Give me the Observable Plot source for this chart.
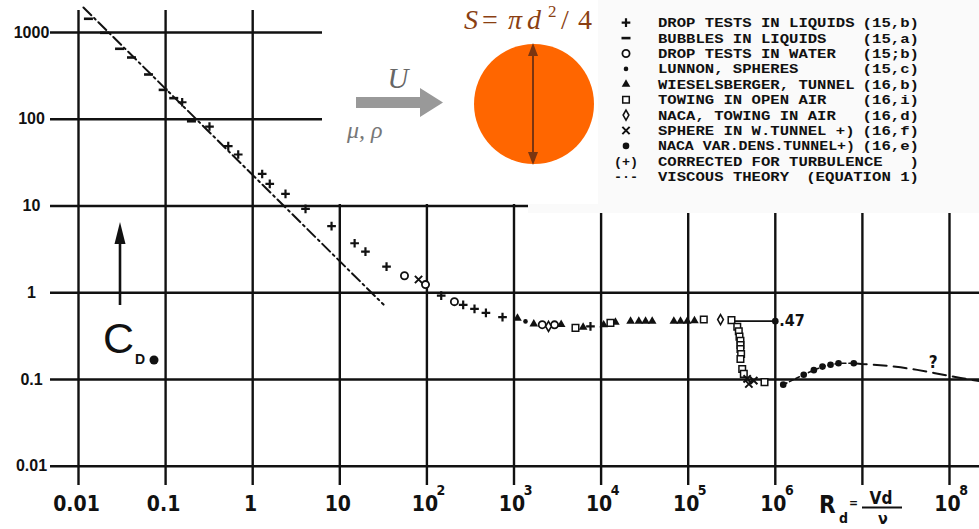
<!DOCTYPE html>
<html>
<head>
<meta charset="utf-8">
<script src="https://cdn.jsdelivr.net/npm/d3@7"></script>
<script src="https://cdn.jsdelivr.net/npm/@observablehq/plot@0.6"></script>
<style>
  html, body { margin: 0; padding: 0; background: #fff; }
  #chart svg { display: block; }
</style>
</head>
<body>
<div id="chart"></div>
<script>
// ---------------- grid / ticks ----------------
const xGrid = [0.01, 0.1, 1, 10, 1e2, 1e3, 1e4, 1e5, 1e6, 1e7, 1e8];
const yGrid = [0.01, 0.1, 1, 10, 100, 1000];
const xTickValues = [0.01, 0.1, 1, 10, 1e2, 1e3, 1e4, 1e5, 1e6, 1e8];
const xTickBase = ["0.01", "0.1", "1", "10", "10", "10", "10", "10", "10", "10"];
const xTickExp = ["", "", "", "", "2", "3", "4", "5", "6", "8"];
const yTickValues = [1000, 100, 10, 1, 0.1, 0.01];
const yTickLabels = ["1000", "100", "10", "1", "0.1", "0.01"];

// ---------------- series (Reynolds number, drag coefficient) ----------------
const viscousRe = [0.0114, 31.8];
const viscousCd = [1942, 0.73];

const bubblesRe = [0.0130, 0.0199, 0.0296, 0.0406, 0.0637, 0.0938, 0.124, 0.198];
const bubblesCd = [1439, 992, 649, 515, 328, 218, 175, 94.8];

const dropLiquidRe = [0.155, 0.319, 0.524, 0.682, 1.285, 1.57, 2.38, 4.04, 8.04, 14.8, 19.7, 34.4, 146, 261, 352, 476, 738, 7550];
const dropLiquidCd = [157, 82.4, 48.9, 39.2, 23.4, 18.0, 13.8, 9.27, 5.86, 3.72, 2.98, 2.00, 0.927, 0.723, 0.650, 0.585, 0.524, 0.409];

const dropWaterRe = [55.3, 96.4, 207, 2110, 2920];
const dropWaterCd = [1.57, 1.24, 0.789, 0.428, 0.426];

const lunnonRe = [1355];
const lunnonCd = [0.467];

const wieselsbergerRe = [1096, 1687, 3480, 6220, 10700, 14600, 21800, 27100, 32400, 38600, 68400, 81600, 97500, 118000];
const wieselsbergerCd = [0.509, 0.436, 0.429, 0.399, 0.426, 0.456, 0.468, 0.468, 0.468, 0.468, 0.468, 0.468, 0.468, 0.475];

const towingOpenRe = [5080, 12800, 151000, 314000, 366000, 381000, 388000, 398000, 398000, 398000, 405000, 398000, 417000, 435000, 752000];
const towingOpenCd = [0.393, 0.449, 0.490, 0.483, 0.406, 0.359, 0.312, 0.280, 0.250, 0.225, 0.197, 0.172, 0.132, 0.116, 0.0931];

const nacaTowRe = [2490, 235000];
const nacaTowCd = [0.409, 0.490];

const tunnelRe = [80.2, 475000, 497000, 566000];
const tunnelCd = [1.42, 0.1014, 0.0887, 0.0968];

const nacaVdtRe = [1233000, 2120000, 2770000, 3480000, 4310000, 5320000, 7960000];
const nacaVdtCd = [0.0871, 0.1135, 0.128, 0.1406, 0.148, 0.1535, 0.154];

const extrapRe = [7960000, 9770000, 19300000, 27400000, 42600000, 66000000, 94200000, 134000000, 221000000];
const extrapCd = [0.154, 0.151, 0.144, 0.138, 0.129, 0.119, 0.111, 0.104, 0.0955];

// annotation ".47" and "?"
const subcritRe = [330000, 1000000];
const subcritCd = [0.47, 0.47];
const subcritLabel = ".47";
const queryRe = [65000000];
const queryCd = [0.158];
const queryLabel = "?";

// legend
const legendKeys = ["plus", "dash", "circle", "dot", "triangle", "square", "diamond", "times", "bigdot", "(+)", "-·-"];
const legendLabels = ["DROP TESTS IN LIQUIDS", "BUBBLES IN LIQUIDS", "DROP TESTS IN WATER", "LUNNON, SPHERES",
  "WIESELSBERGER, TUNNEL", "TOWING IN OPEN AIR", "NACA, TOWING IN AIR", "SPHERE IN W.TUNNEL +)",
  "NACA VAR.DENS.TUNNEL+)", "CORRECTED FOR TURBULENCE", "VISCOUS THEORY"];
const legendRefs = ["(15,b)", "(15,a)", "(15;b)", "(15,c)", "(16,b)", "(16,i)", "(16,d)", "(16,f)", "(16,e)", ")", "(EQUATION 1)"];

// ---------------- helpers ----------------
const zip = (re, cd) => re.map((r, i) => ({re: r, cd: cd[i]}));
const ink = "#111";
const dashSymbol = {draw(ctx) { ctx.moveTo(-4.5, 0); ctx.lineTo(4.5, 0); }};

const styles = {
  plus:     {symbol: d3.symbolPlus, r: 2.9, fill: "none", stroke: ink, strokeWidth: 2.2},
  dash:     {symbol: dashSymbol, r: 3, fill: "none", stroke: ink, strokeWidth: 2.6},
  circle:   {symbol: d3.symbolCircle, r: 3.6, fill: "#fff", stroke: ink, strokeWidth: 1.8},
  dot:      {symbol: d3.symbolCircle, r: 2.3, fill: ink, stroke: "none", strokeWidth: 0},
  triangle: {symbol: d3.symbolTriangle, r: 3.2, fill: ink, stroke: "none", strokeWidth: 0},
  square:   {symbol: d3.symbolSquare, r: 3.7, fill: "#fff", stroke: ink, strokeWidth: 1.5},
  diamond:  {symbol: d3.symbolDiamond, r: 3.0, fill: "#fff", stroke: ink, strokeWidth: 1.6},
  times:    {symbol: d3.symbolTimes, r: 3.4, fill: "none", stroke: ink, strokeWidth: 2},
  bigdot:   {symbol: d3.symbolCircle, r: 3.3, fill: ink, stroke: "none", strokeWidth: 0}
};
const dots = (data, key) => Plot.dot(data, {x: "re", y: "cd", ...styles[key]});

const handFont = "'Liberation Sans Narrow','DejaVu Sans Condensed','Liberation Sans',sans-serif";
const serif = "'Liberation Serif','DejaVu Serif',serif";
const mono = "'Liberation Mono','DejaVu Sans Mono',monospace";
const charW = 9.36;

// ---------------- overlay: panels, inset drawing, legend, labels ----------------
function overlay() {
  const g = d3.create("svg:g").attr("text-anchor", "start");
  // legend panel and inset panel
  g.append("rect").attr("x", 528).attr("y", 0).attr("width", 451).attr("height", 213).attr("fill", "#fafafa");
  g.append("rect").attr("x", 322).attr("y", 0).attr("width", 276).attr("height", 204).attr("fill", "#fff");

  // flow arrow
  g.append("path").attr("d", "M356,97 L420,97 L420,88 L443,102.5 L420,117 L420,108 L356,108 Z").attr("fill", "#999");
  g.append("text").attr("x", 398).attr("y", 88).attr("text-anchor", "middle")
    .attr("font-family", serif).attr("font-style", "italic").attr("font-size", 29).attr("fill", "#666").text("U");
  g.append("text").attr("x", 347).attr("y", 138)
    .attr("font-family", serif).attr("font-style", "italic").attr("font-size", 24).attr("fill", "#777").text("μ, ρ");

  // sphere
  g.append("circle").attr("cx", 534).attr("cy", 104).attr("r", 60).attr("fill", "#ff6600");
  const brown = "#7a3510";
  g.append("line").attr("x1", 533).attr("x2", 533).attr("y1", 52).attr("y2", 156).attr("stroke", brown).attr("stroke-width", 2);
  g.append("path").attr("d", "M528,56 L533,43 L538,56 Z").attr("fill", brown);
  g.append("path").attr("d", "M528,152 L533,165 L538,152 Z").attr("fill", brown);

  // S = pi d^2 / 4
  const sCol = "#8a3f12";
  const sTxt = (x, y, t, size, italic) => g.append("text").attr("x", x).attr("y", y)
    .attr("font-family", serif).attr("font-size", size).attr("font-style", italic ? "italic" : "normal")
    .attr("fill", sCol).text(t);
  sTxt(464, 29, "S", 28, true);
  sTxt(482, 29, "=", 28, false);
  sTxt(508, 29, "π", 28, true);
  sTxt(527, 29, "d", 28, true);
  sTxt(548, 17, "2", 17, false);
  sTxt(561, 29, "/", 28, false);
  sTxt(578, 29, "4", 28, false);

  // legend
  const rowY = i => 22.7 + i * 15.4;
  const legFont = 13.4;
  legendKeys.forEach((k, i) => {
    const y = rowY(i);
    if (styles[k]) {
      const s = styles[k];
      g.append("path")
        .attr("transform", `translate(626,${y})`)
        .attr("d", d3.symbol().type(s.symbol).size(Math.PI * s.r * s.r)())
        .attr("fill", s.fill).attr("stroke", s.stroke).attr("stroke-width", s.strokeWidth);
    } else {
      g.append("text").attr("x", 626).attr("y", y + 4.5).attr("text-anchor", "middle")
        .attr("font-family", mono).attr("font-weight", "bold").attr("font-size", legFont).attr("fill", ink).text(k);
    }
    const lab = legendLabels[i];
    g.append("text").attr("x", 658).attr("y", y + 4.5)
      .attr("font-family", mono).attr("font-weight", "bold").attr("font-size", legFont).attr("fill", ink)
      .attr("textLength", Math.min(lab.length * charW, lab.length > 21 ? (lab.length > 22 ? 227 : 197) : 999))
      .attr("lengthAdjust", "spacingAndGlyphs")
      .text(lab);
    const ref = legendRefs[i];
    g.append("text").attr("x", 919).attr("y", y + 4.5).attr("text-anchor", "end")
      .attr("font-family", mono).attr("font-weight", "bold").attr("font-size", legFont).attr("fill", ink)
      .attr("textLength", ref.length * 9.4).attr("lengthAdjust", "spacingAndGlyphs")
      .text(ref);
  });

  // C_D label with arrow
  g.append("line").attr("x1", 120).attr("x2", 120).attr("y1", 305).attr("y2", 238).attr("stroke", ink).attr("stroke-width", 2.6);
  g.append("path").attr("d", "M114.5,244 L120,222 L125.5,244 Z").attr("fill", ink);
  g.append("text").attr("x", 103).attr("y", 353).attr("font-family", "'Liberation Sans',sans-serif")
    .attr("font-size", 43).attr("fill", ink).text("C");
  g.append("text").attr("x", 135).attr("y", 364).attr("font-family", "'Liberation Sans',sans-serif")
    .attr("font-weight", "bold").attr("font-size", 14).attr("fill", ink).text("D");
  g.append("circle").attr("cx", 154).attr("cy", 360).attr("r", 4.5).attr("fill", ink);

  // x-axis quantity: R_d = Vd / nu
  const ax = (x, y, t, size, anchor) => g.append("text").attr("x", x).attr("y", y)
    .attr("text-anchor", anchor || "start").attr("font-family", handFont).attr("font-weight", "bold")
    .attr("font-size", size).attr("fill", ink).text(t);
  ax(819, 513, "R", 24);
  ax(839, 523, "d", 14);
  ax(849, 507, "=", 12);
  ax(881, 504, "Vd", 17, "middle");
  g.append("line").attr("x1", 862).attr("x2", 902).attr("y1", 507.5).attr("y2", 507.5).attr("stroke", ink).attr("stroke-width", 2);
  ax(883, 524, "ν", 16, "middle");
  return g.node();
}

// ---------------- plot ----------------
const xTicks = xTickValues.map((v, i) => ({v, base: xTickBase[i], exp: xTickExp[i]}));
const yTicks = yTickValues.map((v, i) => ({v, label: yTickLabels[i]}));

const chart = Plot.plot({
  width: 979,
  height: 529,
  marginLeft: 50,
  marginRight: 0,
  marginTop: 10,
  marginBottom: 44,
  x: {type: "log", domain: [0.01, 1e8], range: [78, 949], axis: null},
  y: {type: "log", domain: [0.01, 1000], range: [465.7, 32], axis: null},
  style: {background: "#fff", color: ink, overflow: "visible"},
  marks: [
    Plot.ruleX(xGrid, {stroke: ink, strokeWidth: 2.4}),
    Plot.ruleY(yGrid, {stroke: ink, strokeWidth: 2.6}),
    overlay,
    // tick labels
    Plot.text(xTicks, {x: "v", text: "base", frameAnchor: "bottom", lineAnchor: "middle", dy: 19, dx: -2, textAnchor: "middle",
      fontFamily: handFont, fontWeight: "bold", fontSize: 21, fill: ink}),
    Plot.text(xTicks.filter(d => d.exp), {x: "v", text: "exp", frameAnchor: "bottom", lineAnchor: "middle", dy: 5, dx: 14, textAnchor: "middle",
      fontFamily: handFont, fontWeight: "bold", fontSize: 14, fill: ink}),
    Plot.text(yTicks, {y: "v", text: "label", frameAnchor: "left", lineAnchor: "middle", dx: -19, textAnchor: "middle",
      fontFamily: "'Liberation Sans',sans-serif", fontWeight: "bold", fontSize: 16, fill: ink}),
    // curves
    Plot.line(zip(viscousRe, viscousCd), {x: "re", y: "cd", stroke: ink, strokeWidth: 2, strokeDasharray: "11,4,2,4"}),
    Plot.line(zip(nacaVdtRe, nacaVdtCd), {x: "re", y: "cd", stroke: ink, strokeWidth: 1.6, strokeDasharray: "4,3"}),
    Plot.line(zip(extrapRe, extrapCd), {x: "re", y: "cd", stroke: ink, strokeWidth: 2, strokeDasharray: "13,7"}),
    Plot.line(zip(subcritRe, subcritCd), {x: "re", y: "cd", stroke: ink, strokeWidth: 1.6}),
    // markers
    dots(zip(bubblesRe, bubblesCd), "dash"),
    dots(zip(dropLiquidRe, dropLiquidCd), "plus"),
    dots(zip(dropWaterRe, dropWaterCd), "circle"),
    dots(zip(lunnonRe, lunnonCd), "dot"),
    dots(zip(wieselsbergerRe, wieselsbergerCd), "triangle"),
    dots(zip(towingOpenRe, towingOpenCd), "square"),
    dots(zip(nacaTowRe, nacaTowCd), "diamond"),
    dots(zip(tunnelRe, tunnelCd), "times"),
    dots(zip(nacaVdtRe, nacaVdtCd), "bigdot"),
    dots([{re: subcritRe[1], cd: subcritCd[1]}], "bigdot"),
    // annotations
    Plot.text([{re: subcritRe[1], cd: subcritCd[1]}], {x: "re", y: "cd", text: () => subcritLabel, dx: 4, textAnchor: "start",
      fontFamily: handFont, fontWeight: "bold", fontSize: 16, fill: ink}),
    Plot.text(zip(queryRe, queryCd), {x: "re", y: "cd", text: () => queryLabel, textAnchor: "middle",
      fontFamily: handFont, fontWeight: "bold", fontSize: 17, fill: ink})
  ]
});

document.getElementById("chart").appendChild(chart);
</script>
</body>
</html>
